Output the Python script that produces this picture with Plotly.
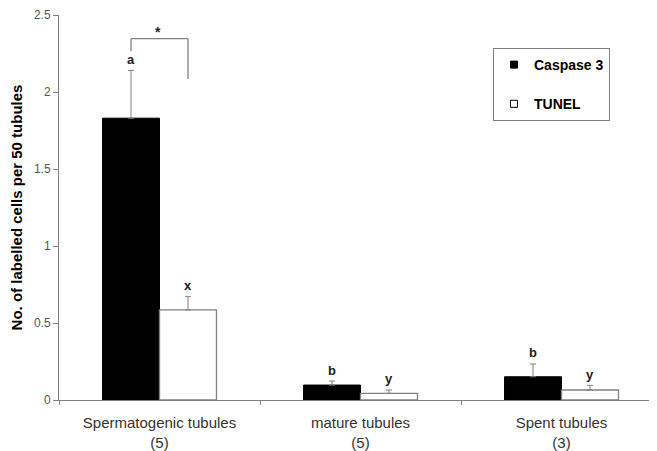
import plotly.graph_objects as go

# ---- data ----
categories = ["Spermatogenic tubules<br>(5)", "mature tubules<br>(5)", "Spent tubules<br>(3)"]
caspase3 = [1.83, 0.097, 0.151]
caspase3_err = [0.31, 0.026, 0.083]
tunel = [0.585, 0.043, 0.065]
tunel_err = [0.086, 0.022, 0.030]
caspase3_letters = ["a", "b", "b"]
tunel_letters = ["x", "y", "y"]
y_ticks = [0, 0.5, 1, 1.5, 2, 2.5]
y_tick_text = ["0", "0.5", "1", "1.5", "2", "2.5"]
# significance bracket between Caspase 3 and TUNEL of the first group
sig_top, sig_left_bottom, sig_right_bottom = 2.346, 2.264, 2.084

FONT = "Arial, Liberation Sans, sans-serif"
GRAY = "#808080"
BARGAP = 0.433
half_off = (1 - BARGAP) / 4  # offset of each bar centre from category centre

# page body adds an 8px margin, so the figure is drawn 8px smaller
W, H = 649, 443
ML, MR, MT, MB = 51, 0, 7, 51

fig = go.Figure()
fig.add_trace(go.Bar(
    x=categories, y=caspase3, name="Caspase 3",
    marker=dict(color="black", line=dict(color="black", width=1)),
    error_y=dict(type="data", array=caspase3_err, symmetric=False,
                 arrayminus=[0] * len(caspase3), color=GRAY, thickness=1, width=3),
    showlegend=False,
))
fig.add_trace(go.Bar(
    x=categories, y=tunel, name="TUNEL",
    marker=dict(color="white", line=dict(color=GRAY, width=1.3)),
    error_y=dict(type="data", array=tunel_err, symmetric=False,
                 arrayminus=[0] * len(tunel), color=GRAY, thickness=1, width=3),
    showlegend=False,
))
# legend entries (small square swatches)
fig.add_trace(go.Scatter(x=[None], y=[None], mode="markers", name="<b>Caspase 3</b>",
                         legendgroup="c",
                         marker=dict(symbol="square", size=7, color="black",
                                     line=dict(color="black", width=1))))
fig.add_trace(go.Scatter(x=[None], y=[None], mode="markers", name="<b>TUNEL</b>",
                         legendgroup="t",
                         marker=dict(symbol="square", size=7, color="white",
                                     line=dict(color="black", width=1))))

letter_font = dict(family=FONT, size=13, color="#222")
annotations = []
for i in range(len(categories)):
    annotations.append(dict(x=i - half_off, y=caspase3[i] + caspase3_err[i],
                            text="<b>%s</b>" % caspase3_letters[i], showarrow=False,
                            yanchor="middle", yshift=11, font=letter_font))
    annotations.append(dict(x=i + half_off, y=tunel[i] + tunel_err[i],
                            text="<b>%s</b>" % tunel_letters[i], showarrow=False,
                            yanchor="middle", yshift=11, font=letter_font))
annotations.append(dict(x=0, y=sig_top, text="<b>*</b>", showarrow=False,
                        yanchor="middle", yshift=7, xshift=-2,
                        font=dict(family=FONT, size=14, color="#222")))

shapes = [
    dict(type="line", x0=-half_off, x1=half_off, y0=sig_top, y1=sig_top,
         line=dict(color=GRAY, width=1.3)),
    dict(type="line", x0=-half_off, x1=-half_off, y0=sig_left_bottom, y1=sig_top,
         line=dict(color=GRAY, width=1.3)),
    dict(type="line", x0=half_off, x1=half_off, y0=sig_right_bottom, y1=sig_top,
         line=dict(color=GRAY, width=1.3)),
]

plot_w = W - ML - MR
plot_h = H - MT - MB
cat_px = 201.0  # pixel width of one category slot

fig.update_layout(
    width=W, height=H,
    margin=dict(l=ML, r=MR, t=MT, b=MB),
    paper_bgcolor="white", plot_bgcolor="white",
    barmode="group", bargap=BARGAP, bargroupgap=0,
    font=dict(family=FONT, size=12, color="#333"),
    annotations=annotations, shapes=shapes,
    showlegend=True,
    legend=dict(
        x=(485 - ML) / plot_w, y=1 - (40 - MT) / plot_h,
        xanchor="left", yanchor="top",
        bordercolor=GRAY, borderwidth=1, bgcolor="white",
        font=dict(family=FONT, size=14, color="black"),
        tracegroupgap=18, itemwidth=30,
    ),
)
fig.update_xaxes(
    type="category", range=[-0.5, -0.5 + plot_w / cat_px],
    showline=True, linecolor=GRAY, linewidth=1,
    ticks="outside", tickson="boundaries", ticklen=4, tickcolor=GRAY,
    ticklabelstandoff=9,
    tickfont=dict(family=FONT, size=15, color="#333"),
    showgrid=False, zeroline=False,
)
fig.update_yaxes(
    range=[0, 2.5], tickvals=y_ticks, ticktext=y_tick_text,
    showline=True, linecolor=GRAY, linewidth=1,
    ticks="outside", ticklen=5, tickcolor=GRAY,
    tickfont=dict(family=FONT, size=12, color="#555"),
    showgrid=False, zeroline=False,
    title=dict(text="<b>No. of labelled cells per 50 tubules</b>",
               font=dict(family=FONT, size=15, color="black"), standoff=7),
)

fig.write_html("out.html")
